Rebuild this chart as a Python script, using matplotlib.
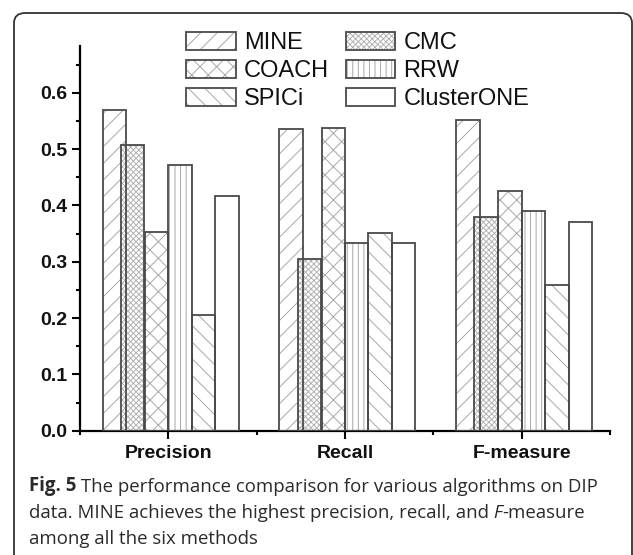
import numpy as np
import matplotlib
matplotlib.use("Agg")
import matplotlib.pyplot as plt
from matplotlib.patches import Patch, FancyBboxPatch
from matplotlib.ticker import MultipleLocator, FixedLocator

# data
metrics = ["Precision", "Recall", "F-measure"]
methods = ["MINE", "CMC", "COACH", "RRW", "SPICi", "ClusterONE"]
precision = [0.570, 0.507, 0.353, 0.471, 0.205, 0.417]
recall = [0.535, 0.304, 0.537, 0.333, 0.351, 0.333]
f_measure = [0.551, 0.379, 0.426, 0.390, 0.259, 0.371]

# styling
hatches = ["//", "xxxxxx", "xx", "|||", "\\\\", ""]
hatch_cols = ["#a8a8a8", "#b4b4b4", "#a8a8a8", "#a8a8a8", "#a8a8a8", "#a8a8a8"]
offsets = [-0.371, -0.268, -0.133, 0.0, 0.133, 0.266]
bar_w = 0.133
EDGE = "#4a4a4a"

plt.rcParams["font.family"] = ["Liberation Sans", "DejaVu Sans"]
plt.rcParams["hatch.linewidth"] = 0.7

fig = plt.figure(figsize=(6.33, 5.55), dpi=100)
W, H = 633.0, 555.0

# rounded frame round the whole figure (clipped at right/bottom)
frame = FancyBboxPatch((14 / W, -20 / H), (632 - 14) / W, (555 - 13 + 20) / H,
                       boxstyle="round,pad=0,rounding_size=0.018",
                       transform=fig.transFigure, fc="none", ec="#333333",
                       lw=1.3, zorder=0)
fig.patches.append(frame)

ax = fig.add_axes([80 / W, 1 - 430.7 / H, (610 - 80) / W, (430.7 - 46) / H])

data = np.array([precision, recall, f_measure])  # shape (metric, method)
x = np.arange(len(metrics))

handles = []
for i, name in enumerate(methods):
    ax.bar(x + offsets[i], data[:, i], width=bar_w, align="edge",
           facecolor="white", edgecolor=hatch_cols[i], lw=0, hatch=hatches[i],
           zorder=2 + i * 0.01)
    handles.append((Patch(facecolor="white", edgecolor=hatch_cols[i], lw=0, hatch=hatches[i]),
                    Patch(facecolor="none", edgecolor=EDGE, lw=1.3)))
for i, name in enumerate(methods):
    ax.bar(x + offsets[i], data[:, i], width=bar_w, align="edge",
           facecolor="none", edgecolor=EDGE, lw=1.3, zorder=3)

ax.set_xlim(-0.5, 2.5)
ax.set_ylim(0, 0.683)
ax.spines["top"].set_visible(False)
ax.spines["right"].set_visible(False)
for s in ("left", "bottom"):
    ax.spines[s].set_linewidth(1.6)
    ax.spines[s].set_color("black")

ax.yaxis.set_major_locator(MultipleLocator(0.1))
ax.yaxis.set_minor_locator(MultipleLocator(0.05))
ax.set_yticklabels([f"{v:.1f}" for v in ax.get_yticks()])
ax.set_xticks(x)
ax.set_xticklabels(metrics)
ax.xaxis.set_minor_locator(FixedLocator([-0.5, 0.5, 1.5, 2.5]))
ax.tick_params(which="major", length=6, width=1.5, direction="out")
ax.tick_params(which="minor", length=3, width=1.5, direction="out")
ax.tick_params(axis="y", pad=3)
ax.tick_params(axis="x", pad=4)
for lab in ax.get_xticklabels() + ax.get_yticklabels():
    lab.set_fontweight("bold")
    lab.set_fontsize(14)
    lab.set_color("#111111")

# legend fills column-wise, so order gives rows MINE/CMC, COACH/RRW, SPICi/ClusterONE
col_order = [0, 2, 4, 1, 3, 5]
leg = fig.legend([handles[i] for i in col_order], [methods[i] for i in col_order],
                 ncol=2, loc="upper left", bbox_to_anchor=(186 / W, 1 - 31.5 / H),
                 frameon=False, fontsize=17, handlelength=2.1, handleheight=0.8,
                 handletextpad=0.35, columnspacing=0.7, labelspacing=0.25,
                 borderpad=0, borderaxespad=0)
for t in leg.get_texts():
    t.set_color("#111111")

# caption, built from pieces so "Fig. 5" is bold and F is italic
cap_font = ["Open Sans", "DejaVu Sans"]
CAP_SIZE = 13.4
CAP_COLOR = "#2a2a2a"
renderer = fig.canvas.get_renderer()


def put_line(x0, y_px, pieces):
    xf = x0 / W
    for text, kw in pieces:
        t = fig.text(xf, 1 - y_px / H, text, fontsize=CAP_SIZE, color=CAP_COLOR,
                     family=cap_font, va="baseline", ha="left", **kw)
        xf += t.get_window_extent(renderer).width / fig.bbox.width


put_line(29, 491.5, [("Fig. 5", {"fontweight": "bold"}),
                     (" The performance comparison for various algorithms on DIP", {})])
put_line(29, 517.5, [("data. MINE achieves the highest precision, recall, and", {}),
                     (" F", {"style": "italic"}),
                     ("-measure", {})])
put_line(29, 543.5, [("among all the six methods", {})])

fig.savefig("out.png", dpi=100)
